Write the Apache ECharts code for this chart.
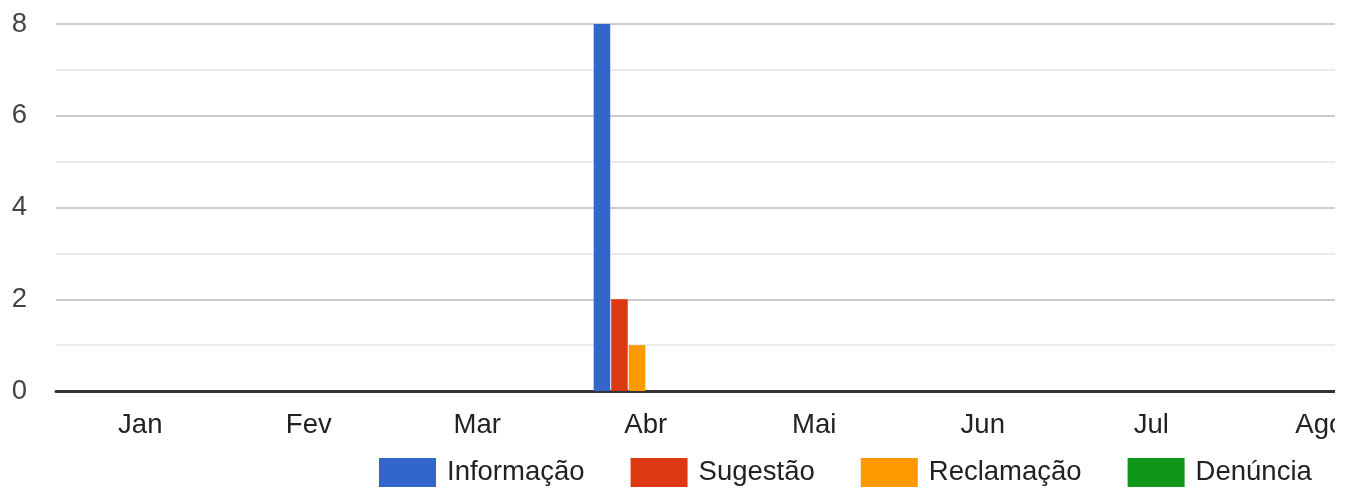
<!DOCTYPE html>
<html><head><meta charset="utf-8">
<script src="https://cdn.jsdelivr.net/npm/echarts@6/dist/echarts.min.js"></script>
<style>html,body{margin:0;padding:0;background:#fff;overflow:hidden}
#wrap{width:1354px;height:490px;overflow:hidden;position:relative}
#c{width:2100px;height:490px}</style>
</head><body><div id="wrap"><div id="c"></div></div>
<script>
const months = ['Jan','Fev','Mar','Abr','Mai','Jun','Jul','Ago','Set','Out','Nov','Dez'];
const informacao = [0,0,0,8,0,0,0,0,0,0,0,0];
const sugestao   = [0,0,0,2,0,0,0,0,0,0,0,0];
const reclamacao = [0,0,0,1,0,0,0,0,0,0,0,0];
const denuncia   = [0,0,0,0,0,0,0,0,0,0,0,0];
const elogio     = [0,0,0,0,0,0,0,0,0,0,0,0];
const solicitacao= [0,0,0,0,0,0,0,0,0,0,0,0];
const seriesNames = ['Informação','Sugestão','Reclamação','Denúncia','Elogio','Solicitação'];
const seriesData = [informacao, sugestao, reclamacao, denuncia, elogio, solicitacao];
const colors = ['#3366cc','#dc3912','#ff9900','#109618','#990099','#0099c6'];
const yTicks = [0,2,4,6,8];

const chart = echarts.init(document.getElementById('c'), null, {renderer:'canvas'});
const FONT = 'Arial, "Liberation Sans", sans-serif';
chart.setOption({
  animation:false,
  color: colors,
  textStyle:{fontFamily:FONT},
  grid:{left:56, top:24, bottom:99, right:22, containLabel:false},
  legend:{
    data: seriesNames.slice(0,4),
    left:379, top:458, itemWidth:57, itemHeight:29, itemGap:46, padding:0,
    icon:'rect',
    textStyle:{fontSize:27.5, color:'#222', fontFamily:FONT, padding:[0,0,0,6]}
  },
  xAxis:{
    type:'category', data: months,
    axisLine:{show:true, onZero:true, lineStyle:{color:'#333', width:3}},
    axisTick:{show:false},
    axisLabel:{fontSize:27.5, color:'#222', margin:20, fontFamily:FONT},
    splitLine:{show:false}
  },
  yAxis:{
    type:'value', min:yTicks[0], max:yTicks[yTicks.length-1], interval:2,
    axisLine:{show:false}, axisTick:{show:false},
    axisLabel:{fontSize:27.5, color:'#444', margin:29, fontFamily:FONT},
    splitLine:{show:true, lineStyle:{color:'#cccccc', width:2}},
    minorTick:{show:false, splitNumber:2},
    minorSplitLine:{show:true, lineStyle:{color:'#ebebeb', width:2}}
  },
  series: seriesNames.map((n,i)=>({
    name:n, type:'bar', data: seriesData[i],
    barCategoryGap:'38.2%', barGap:'6%', z:3
  })),
  graphic:[{type:'rect', left:1335, top:0, shape:{width:800, height:450}, style:{fill:'#fff'}, z:100}]
});
</script></body></html>
